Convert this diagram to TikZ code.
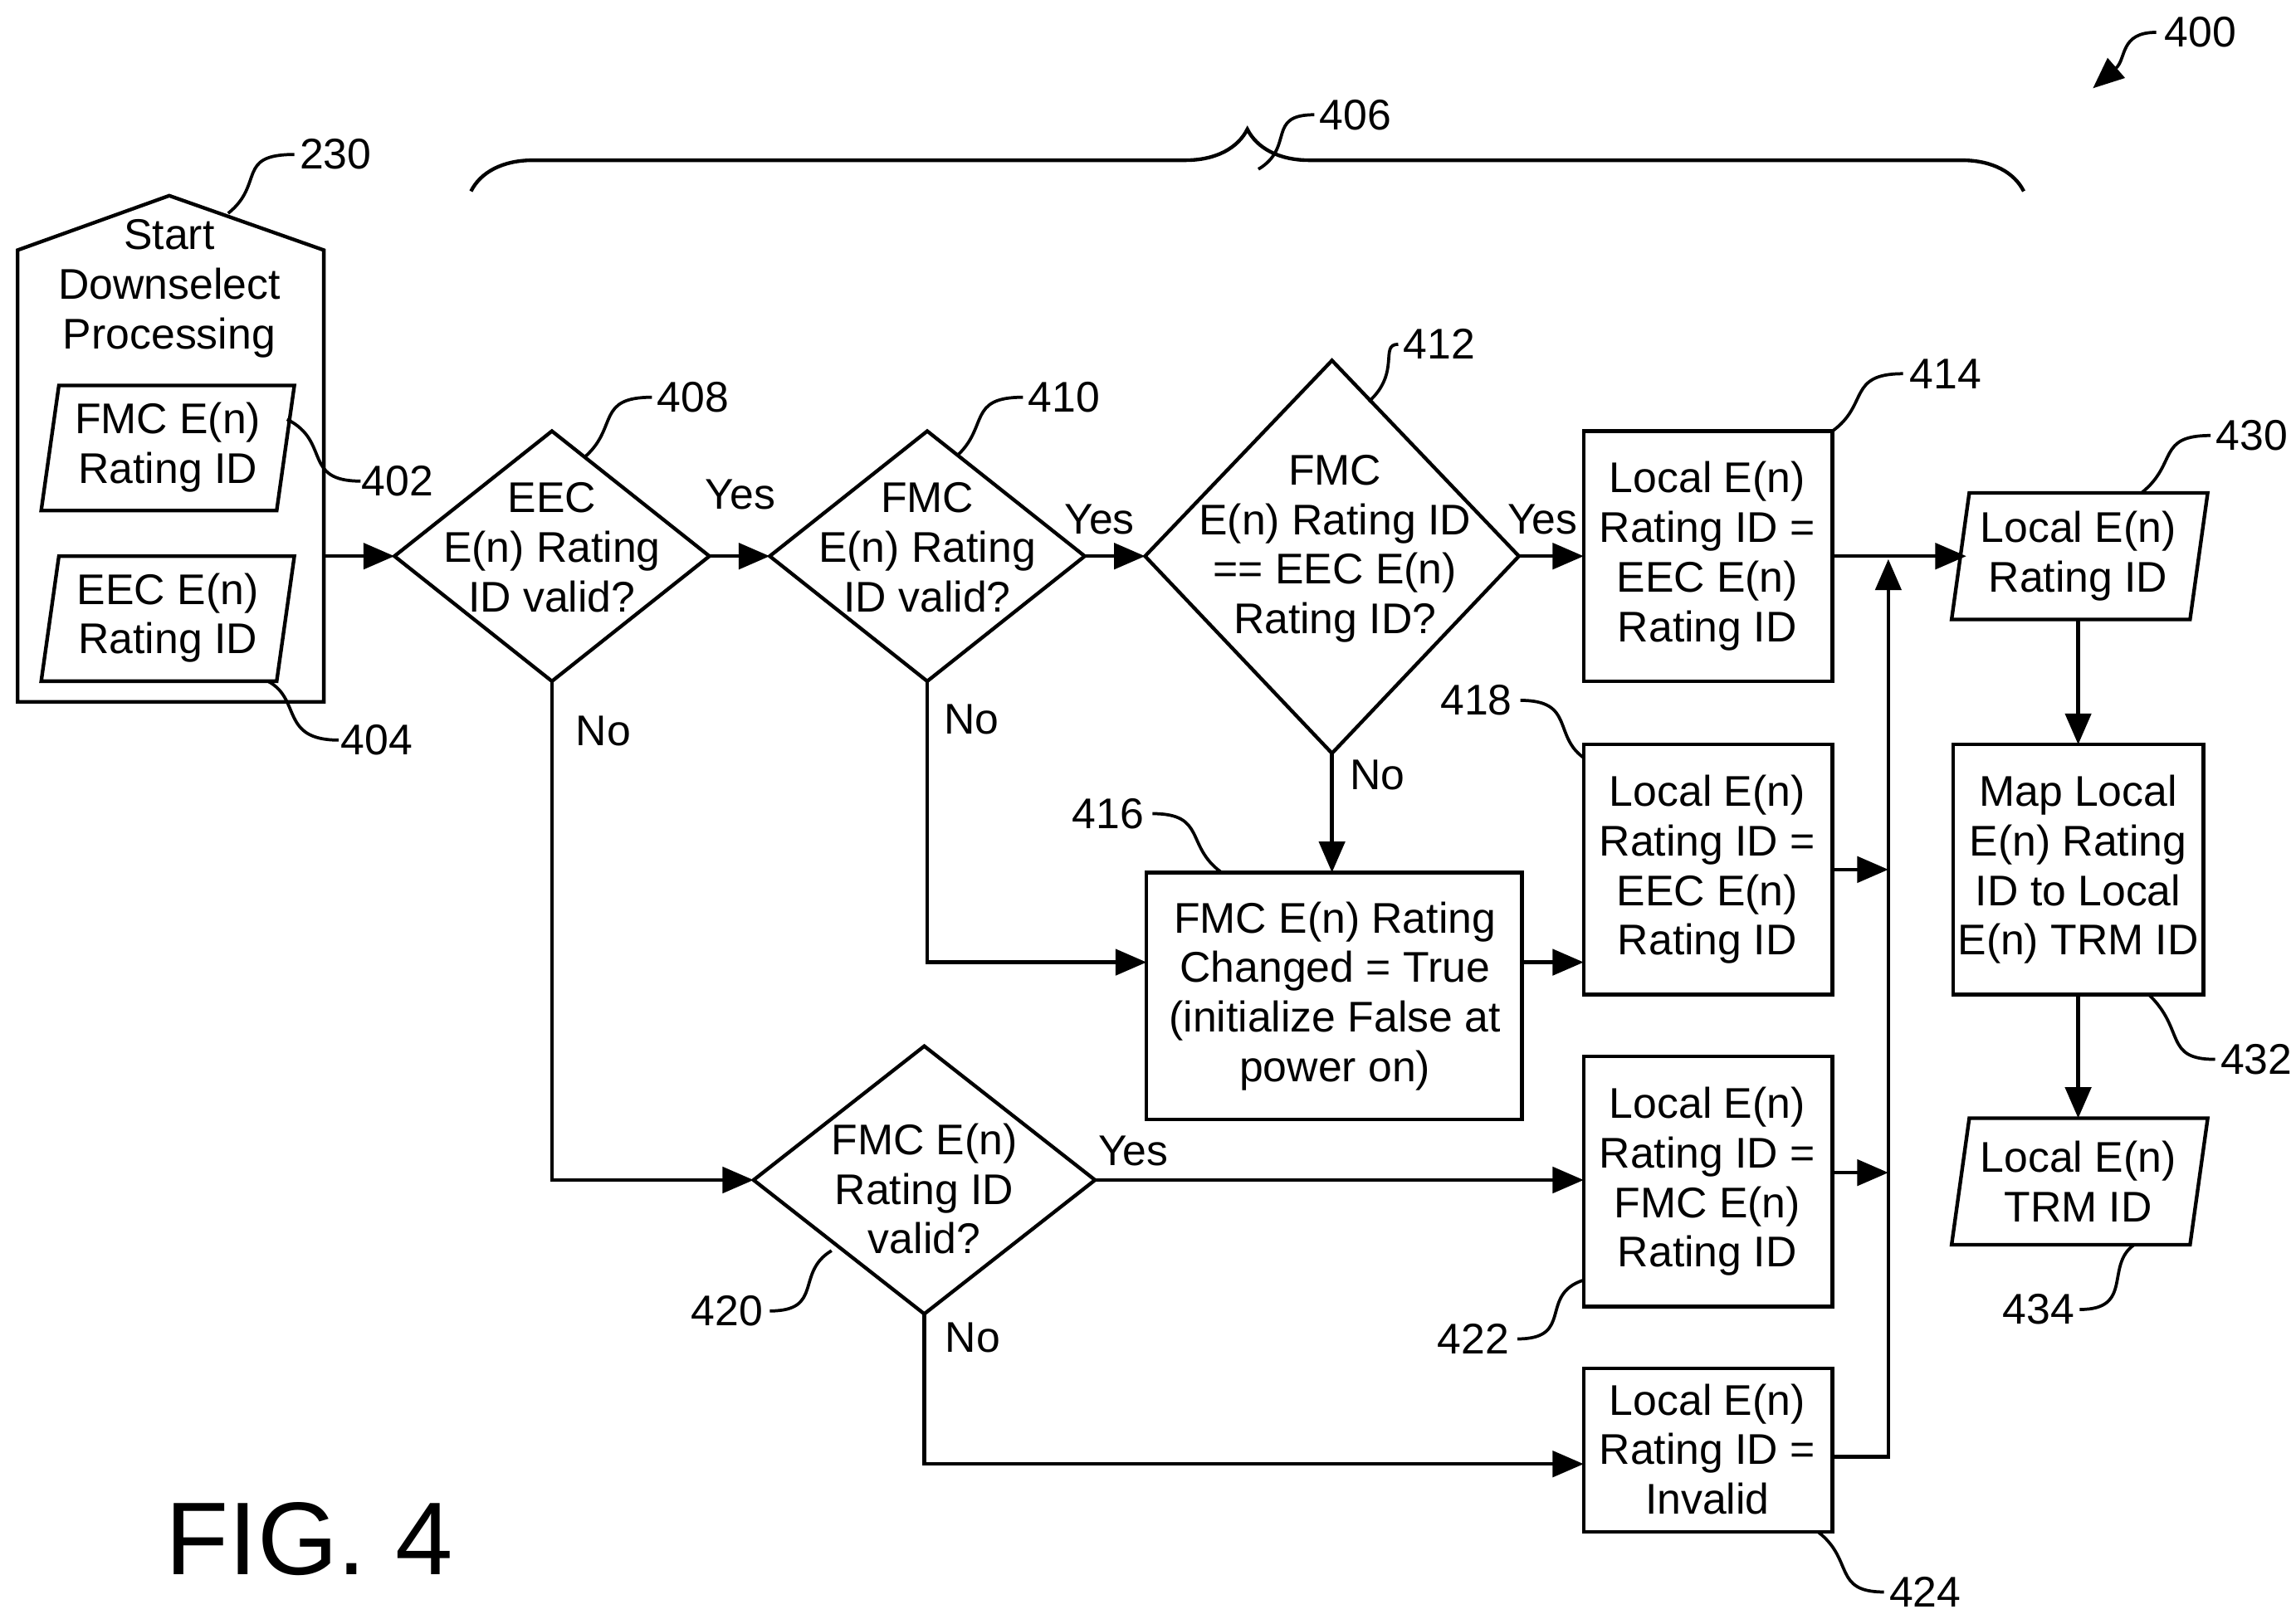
\documentclass[tikz,border=0pt]{standalone}
\usepackage{fontspec}
\setmainfont{Liberation Sans}
\usetikzlibrary{arrows.meta,decorations.pathreplacing}
\begin{document}
\begin{tikzpicture}[x=0.1mm,y=-0.1mm,line width=0.7pt,
 txt/.style={align=center,font=\fontsize{8.3}{9.6}\selectfont,inner sep=0},
 lbl/.style={font=\fontsize{8.3}{9.6}\selectfont,inner sep=0},
 arr/.style={-{Triangle[length=6pt,width=5pt]}},
 lead/.style={line width=0.6pt}]
\useasboundingbox (0,0) rectangle (1560,1100);
% start box
\draw (12,170) -- (115,133) -- (220,170) -- (220,477) -- (12,477) -- cycle;
\node[txt] (start) at (115,196) {Start\\Downselect\\Processing};
\coordinate (startR) at (220,378);
% parallelograms
\draw (40,262) -- (200,262) -- (188,347) -- (28,347) -- cycle;
\node[txt] (p402) at (114,304) {FMC E(n)\\Rating ID};
\draw (40,378) -- (200,378) -- (188,463) -- (28,463) -- cycle;
\node[txt] (p404) at (114,420) {EEC E(n)\\Rating ID};
% diamonds
\draw (268,378) -- (375,293) -- (482,378) -- (375,463) -- cycle;
\node[txt] (d408) at (375,372) {EEC\\E(n) Rating\\ID valid?};
\draw (523,378) -- (630,293) -- (737,378) -- (630,463) -- cycle;
\node[txt] (d410) at (630,372) {FMC\\E(n) Rating\\ID valid?};
\draw (778,378) -- (905,245) -- (1032,378) -- (905,512) -- cycle;
\node[txt] (d412) at (907,373) {FMC\\E(n) Rating ID\\== EEC E(n)\\Rating ID?};
\draw (512,802) -- (628,711) -- (744,802) -- (628,893) -- cycle;
\node[txt] (d420) at (628,808) {FMC E(n)\\Rating ID\\valid?};
% boxes
\draw (1076,293) rectangle (1245,463);
\node[txt] (b414) at (1160,378) {Local E(n)\\Rating ID =\\EEC E(n)\\Rating ID};
\draw (1076,506) rectangle (1245,676);
\node[txt] (b418) at (1160,591) {Local E(n)\\Rating ID =\\EEC E(n)\\Rating ID};
\draw (779,593) rectangle (1034,761);
\node[txt] (b416) at (907,677) {FMC E(n) Rating\\Changed = True\\(initialize False at\\power on)};
\draw (1076,718) rectangle (1245,888);
\node[txt] (b422) at (1160,803) {Local E(n)\\Rating ID =\\FMC E(n)\\Rating ID};
\draw (1076,930) rectangle (1245,1041);
\node[txt] (b424) at (1160,985) {Local E(n)\\Rating ID =\\Invalid};
\draw (1338,335) -- (1500,335) -- (1488,421) -- (1326,421) -- cycle;
\node[txt] (p430) at (1412,378) {Local E(n)\\Rating ID};
\draw (1327,506) rectangle (1497,676);
\node[txt] (b432) at (1412,591) {Map Local\\E(n) Rating\\ID to Local\\E(n) TRM ID};
\draw (1338,760) -- (1500,760) -- (1488,846) -- (1326,846) -- cycle;
\node[txt] (p434) at (1412,803) {Local E(n)\\TRM ID};
% connectors
\draw[arr] (startR) -- (268,378);
\draw[arr] (482,378) -- (523,378);
\draw[arr] (737,378) -- (778,378);
\draw[arr] (1032,378) -- (1076,378);
\draw[arr] (1245,378) -- (1336,378);
\draw[arr] (375,463) |- (512,802);
\draw[arr] (630,463) |- (779,654);
\draw[arr] (905,512) -- (905,593);
\draw[arr] (1034,654) -- (1076,654);
\draw[arr] (744,802) -- (1076,802);
\draw[arr] (628,893) |- (1076,995);
\draw[arr] (1245,990) -| (1283,380);
\draw[arr] (1245,591) -- (1283,591);
\draw[arr] (1245,797) -- (1283,797);
\draw[arr] (1412,421) -- (1412,506);
\draw[arr] (1412,676) -- (1412,760);
% yes/no
\node[lbl] at (503,336) {Yes};
\node[lbl] at (747,353) {Yes};
\node[lbl] at (1048,353) {Yes};
\node[lbl] at (770,782) {Yes};
\node[lbl] at (410,497) {No};
\node[lbl] at (660,489) {No};
\node[lbl] at (936,527) {No};
\node[lbl] at (661,909) {No};
% brace
\draw[decorate,decoration={brace,amplitude=12pt}] (320,130) -- (1375,130);
% reference labels
\node[lbl] (l230) at (228,105) {230};
\draw[lead] (155,145) .. controls (180,125) and (160,105) .. (200,105);
\node[lbl] (l402) at (270,327) {402};
\draw[lead] (195,285) .. controls (225,300) and (205,327) .. (245,327);
\node[lbl] (l404) at (256,503) {404};
\draw[lead] (182,463) .. controls (205,475) and (190,503) .. (230,503);
\node[lbl] (l406) at (921,78) {406};
\draw[lead] (855,115) .. controls (880,100) and (860,78) .. (893,78);
\node[lbl] (l400) at (1495,22) {400};
\draw[lead,-{Triangle[length=6pt,width=5pt]}] (1465,22) .. controls (1440,22) and (1445,40) .. (1422,60);
\node[lbl] (l408) at (471,270) {408};
\draw[lead] (398,310) .. controls (420,290) and (405,270) .. (443,270);
\node[lbl] (l410) at (723,270) {410};
\draw[lead] (650,310) .. controls (672,290) and (657,270) .. (695,270);
\node[lbl] (l412) at (978,234) {412};
\draw[lead] (930,273) .. controls (952,253) and (937,234) .. (950,234);
\node[lbl] (l414) at (1322,254) {414};
\draw[lead] (1245,293) .. controls (1270,275) and (1255,254) .. (1293,254);
\node[lbl] (l418) at (1003,476) {418};
\draw[lead] (1033,476) .. controls (1070,476) and (1055,500) .. (1076,515);
\node[lbl] (l416) at (753,553) {416};
\draw[lead] (783,553) .. controls (820,553) and (805,575) .. (830,593);
\node[lbl] (l422) at (1001,910) {422};
\draw[lead] (1031,910) .. controls (1070,910) and (1045,880) .. (1076,870);
\node[lbl] (l424) at (1308,1082) {424};
\draw[lead] (1235,1041) .. controls (1260,1060) and (1245,1082) .. (1280,1082);
\node[lbl] (l430) at (1530,296) {430};
\draw[lead] (1455,335) .. controls (1480,315) and (1465,296) .. (1502,296);
\node[lbl] (l432) at (1533,720) {432};
\draw[lead] (1460,676) .. controls (1485,700) and (1470,720) .. (1505,720);
\node[lbl] (l434) at (1385,890) {434};
\draw[lead] (1413,890) .. controls (1450,890) and (1430,860) .. (1450,846);
\node[lbl] (l420) at (494,891) {420};
\draw[lead] (523,891) .. controls (560,891) and (540,865) .. (565,850);
\node[font=\fontsize{20}{24}\selectfont] (fig) at (210,1046) {FIG. 4};
\end{tikzpicture}
\end{document}
